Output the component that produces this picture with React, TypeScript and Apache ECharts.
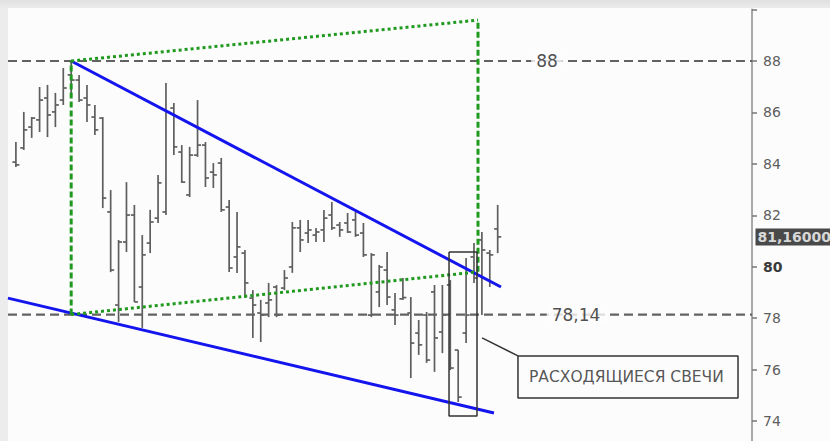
import React, { useEffect, useRef } from "react";
import * as echarts from "echarts";

// ---- OHLC bar data (index = bar number) ----
const barOpen = [84.07, 84.62, 85.43, 85.71, 86.56, 86.02, 86.48, 87.46, 87.26, 86.56, 85.82, 85.78, 82.13, 78.51, 80.96, 82.01, 79.21, 80.92, 81.89, 82.13, 86.17, 84.46, 82.79, 84.34, 84.73, 83.68, 84.03, 82.32, 80.38, 80.53, 78.78, 78.2, 78.59, 79.21, 79.17, 79.99, 81.51, 81.31, 81.23, 81.43, 82.01, 81.62, 81.7, 81.82, 81.31, 78.12, 79.02, 79.87, 78.32, 78.75, 78.2, 77.42, 78.12, 79.02, 77.46, 79.29, 76.76, 77.42, 80.38, 81.04, 80.53, 81.47];
const barClose = [83.96, 85.32, 85.78, 86.48, 85.9, 86.29, 86.95, 87.26, 86.48, 86.29, 85.32, 82.67, 79.87, 80.96, 82.01, 78.63, 80.46, 81.74, 83.26, 86.02, 84.66, 83.29, 84.34, 84.73, 83.45, 83.57, 82.21, 79.95, 80.77, 79.37, 78.51, 78.12, 78.71, 78.12, 79.56, 81.51, 81.04, 81.43, 81.35, 81.89, 81.51, 81.43, 81.35, 81.23, 80.46, 80.46, 79.99, 78.82, 78.12, 78.8, 77.03, 76.96, 76.37, 77.23, 78.12, 76.06, 74.93, 78.12, 79.56, 80.65, 80.46, 81.16];
const barLow = [83.88, 84.54, 85.01, 85.24, 85.04, 85.43, 86.29, 86.68, 86.41, 85.63, 85.12, 82.28, 79.79, 77.85, 80.57, 78.63, 77.62, 80.53, 81.7, 82.01, 84.34, 83.26, 82.71, 84.27, 83.1, 83.06, 82.13, 79.79, 79.76, 78.78, 77.23, 77.07, 78.04, 78.04, 79.09, 79.76, 80.57, 80.92, 80.96, 80.96, 81.43, 81.16, 81.31, 81.16, 80.38, 78.04, 78.43, 78.51, 77.73, 78.71, 75.67, 76.57, 76.26, 75.91, 76.64, 75.98, 74.74, 77.03, 79.37, 78.12, 79.21, 80.53];
const barHigh = [84.85, 86.02, 85.82, 86.99, 87.07, 86.76, 87.73, 88.0, 87.46, 87.07, 86.29, 85.82, 82.98, 81.04, 83.29, 82.4, 81.23, 82.21, 83.57, 87.14, 86.37, 84.73, 84.66, 86.48, 84.85, 84.03, 84.23, 82.59, 82.13, 80.65, 79.09, 78.71, 79.37, 79.29, 79.87, 81.74, 81.82, 81.82, 81.51, 82.21, 82.52, 81.74, 82.09, 82.13, 81.7, 80.53, 80.07, 80.57, 78.98, 79.56, 78.82, 77.93, 78.24, 79.29, 79.29, 79.48, 76.76, 80.34, 80.92, 81.35, 80.65, 82.4];

// ---- annotation values ----
const levels = [88, 78.14];
const upperTrend = [[7, 88.0], [61.42, 79.21]];
const lowerTrend = [[-1, 78.78], [60.53, 74.31]];
const upperDotted = [[7, 88.0], [58.51, 89.59]];
const lowerDotted = [[7, 78.14], [58.51, 79.8]];
const leftVertical = [[7, 78.14], [7, 88.0]];
const rightVertical = [[58.51, 79.8], [58.51, 89.59]];
const highlightBox = [[54.84, 80.57], [58.38, 80.57], [58.38, 74.19], [54.84, 74.19], [54.84, 80.57]];
const calloutLine = [[59.02, 77.23], [63.57, 76.53]];
const calloutBox = [[63.57, 76.53], [91.43, 76.53], [91.43, 74.89], [63.57, 74.89], [63.57, 76.53]];
const calloutText = "РАСХОДЯЩИЕСЯ СВЕЧИ";
const yTicks = [74, 76, 78, 80, 82, 84, 86, 88];

// layout constants
const X_MIN = -1;
const X_MAX = 93.2;
const levelLabelX = [67.25, 70.92];
const calloutTextPos = [77.3, 75.71];

const ru = (v: number) => String(v).replace(".", ",");

export default function App() {
  const ref = useRef<HTMLDivElement>(null);
  useEffect(() => {
    if (!ref.current) return;
    const chart = echarts.init(ref.current, null, { renderer: "svg" });
    const ohlc = barOpen.map((o, i) => [i, o, barClose[i], barLow[i], barHigh[i]]);
    const last = barClose[barClose.length - 1];

    const seg = (data: number[][], color: string, width: number, type: any, z = 3) => ({
      type: "line",
      data,
      symbol: "none",
      silent: true,
      clip: false,
      z,
      lineStyle: { color, width, type, cap: "butt" },
    });

    chart.setOption({
      animation: false,
      textStyle: { fontFamily: "DejaVu Sans" },
      graphic: [
        {
          type: "rect",
          z: 0,
          silent: true,
          shape: { x: 8, y: 8, width: 822, height: 433 },
          style: { fill: "#fcfcfc" },
        },
      ],
      grid: { left: 8, top: 9.57, width: 744, height: 462.86, outerBoundsMode: "none", containLabel: false },
      xAxis: { type: "value", min: X_MIN, max: X_MAX, show: false, axisLine: { onZero: false } },
      yAxis: {
        type: "value",
        position: "right",
        min: 72,
        max: 90,
        interval: 2,
        axisLine: { show: true, onZero: false, lineStyle: { color: "#a8a8a8", width: 2 } },
        axisTick: { show: true, length: 5, lineStyle: { color: "#777", width: 1.5 } },
        splitLine: { show: false },
        axisLabel: {
          margin: 11,
          color: "#5e5e5e",
          fontSize: 14,
          formatter: (v: number) => (yTicks.includes(v) ? (v === 80 ? "{b|80}" : String(v)) : ""),
          rich: { b: { fontWeight: "bold", color: "#3a3a3a", fontSize: 14 } },
        },
      },
      series: [
        ...levels.map((lv) => seg([[X_MIN, lv], [X_MAX, lv]], "#626262", 2.2, [9, 5], 2)),
        {
          type: "custom",
          z: 2,
          silent: true,
          data: ohlc,
          encode: { x: 0, y: [1, 2, 3, 4] },
          renderItem: (params: any, api: any) => {
            const x = api.value(0);
            const o = api.coord([x, api.value(1)]);
            const c = api.coord([x, api.value(2)]);
            const l = api.coord([x, api.value(3)]);
            const h = api.coord([x, api.value(4)]);
            const st = { stroke: "#5e5e5e", lineWidth: 1.7 };
            return {
              type: "group",
              children: [
                { type: "line", shape: { x1: h[0], y1: h[1], x2: l[0], y2: l[1] }, style: st },
                { type: "line", shape: { x1: o[0] - 3.5, y1: o[1], x2: o[0], y2: o[1] }, style: st },
                { type: "line", shape: { x1: c[0], y1: c[1], x2: c[0] + 3.5, y2: c[1] }, style: st },
              ],
            };
          },
        },
        seg(upperTrend, "#1414ee", 3, "solid", 4),
        seg(lowerTrend, "#1414ee", 3, "solid", 4),
        seg(upperDotted, "#1f9a1f", 3, [3, 3], 5),
        seg(lowerDotted, "#1f9a1f", 3, [3, 3], 5),
        seg(leftVertical, "#1f9a1f", 3, [6, 3], 5),
        seg(rightVertical, "#1f9a1f", 3, [6, 3], 5),
        seg(highlightBox, "#333333", 1.5, "solid", 6),
        seg(calloutLine, "#333333", 1.5, "solid", 6),
        seg(calloutBox, "#333333", 1.5, "solid", 6),
        {
          type: "scatter",
          z: 7,
          silent: true,
          clip: false,
          symbolSize: 1,
          itemStyle: { color: "rgba(0,0,0,0)" },
          data: levels.map((lv, i) => [levelLabelX[i], lv]),
          label: {
            show: true,
            position: "inside",
            formatter: (p: any) => ru(p.value[1]),
            fontSize: 17,
            color: "#222222",
            backgroundColor: "#fcfcfc",
            padding: [0, 5],
          },
        },
        {
          type: "scatter",
          z: 7,
          silent: true,
          clip: false,
          symbolSize: 1,
          itemStyle: { color: "rgba(0,0,0,0)" },
          data: [calloutTextPos],
          label: {
            show: true,
            position: "inside",
            formatter: calloutText,
            fontSize: 15.5,
            color: "#2a2a2a",
          },
        },
        {
          type: "scatter",
          z: 7,
          silent: true,
          clip: false,
          symbolSize: 1,
          itemStyle: { color: "rgba(0,0,0,0)" },
          data: [[X_MAX, last]],
          label: {
            show: true,
            position: "right",
            distance: 3,
            formatter: () => last.toFixed(5).replace(".", ","),
            fontSize: 14,
            fontWeight: "bold",
            color: "#ffffff",
            backgroundColor: "#1c1c1c",
            padding: [1, 2, 1, 2],
            lineHeight: 15,
          },
        },
      ],
    });
    return () => chart.dispose();
  }, []);
  return (
    <div
      ref={ref}
      style={{
        position: "absolute",
        left: 0,
        top: 0,
        width: 830,
        height: 441,
        background: "linear-gradient(#e0e0e0, #ececec 8px, #ececec)",
      }}
    />
  );
}
